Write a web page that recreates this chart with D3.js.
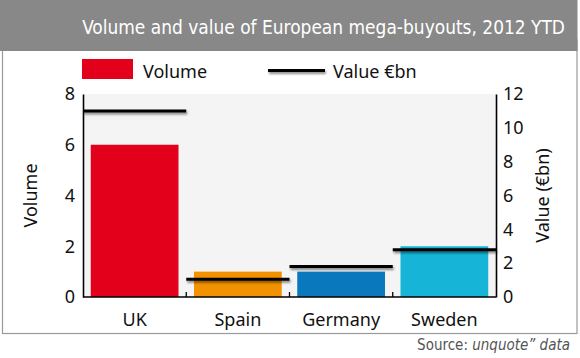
<!DOCTYPE html>
<html><head><meta charset="utf-8">
<script src="https://cdn.jsdelivr.net/npm/d3@7"></script>
<style>body{margin:0;background:#fff}svg{display:block}</style>
</head><body>
<script>
const categories = ["UK","Spain","Germany","Sweden"];
const volume = [6,1,1,2];
const valueBn = [11,1.05,1.8,2.8];
const colors = ["#e2001a","#f39200","#0a78bd","#16b5d8"];
const leftTicks = [0,2,4,6,8];
const rightTicks = [0,2,4,6,8,10,12];

const W=580,H=358;
const svg=d3.select("body").append("svg").attr("width",W).attr("height",H);
const defs=svg.append("defs");
const f=defs.append("filter").attr("id","sh").attr("filterUnits","userSpaceOnUse")
  .attr("x",0).attr("y",0).attr("width",W).attr("height",H);
f.append("feDropShadow").attr("dx",1).attr("dy",2).attr("stdDeviation",1.3).attr("flood-color","#000").attr("flood-opacity",0.45);

const bodyFont="'Noto Sans','Open Sans',sans-serif";
const condFont="'Liberation Sans Narrow','DejaVu Sans Condensed',sans-serif";

// frame
svg.append("rect").attr("x",2.5).attr("y",40).attr("width",574.5).attr("height",293.5).attr("fill","#fff").attr("stroke","#9a9a9a").attr("stroke-width",1.2);
svg.append("rect").attr("x",0).attr("y",0).attr("width",577.5).attr("height",51).attr("fill","#888888");
const title=svg.append("text").attr("x",565).attr("y",34).attr("text-anchor","end").attr("fill","#fff")
  .attr("font-family",condFont).attr("font-size",23)
  .text("Volume and value of European mega-buyouts, 2012 YTD");
const tw=title.node().getComputedTextLength();
if(tw>0) title.attr("font-size",Math.min(25,23*483/tw));

// plot area
const x0=83,x1=496,yTop=94,yBot=297;
const xBand=d3.scaleBand().domain(categories).range([x0,x1]).padding(0);
const xBar=d3.scaleBand().domain(categories).range([x0,x1]).paddingInner(0.15).paddingOuter(0.075);
const yL=d3.scaleLinear().domain([0,8]).range([yBot,yTop]);
const yR=d3.scaleLinear().domain([0,12]).range([yBot,yTop]);

svg.append("rect").attr("x",x0).attr("y",yTop).attr("width",x1-x0).attr("height",yBot-yTop).attr("fill","#f4f4f4");

svg.selectAll("rect.bar").data(categories).join("rect").attr("class","bar")
  .attr("x",d=>xBar(d)).attr("width",xBar.bandwidth())
  .attr("y",(d,i)=>yL(volume[i])).attr("height",(d,i)=>yBot-yL(volume[i]))
  .attr("fill",(d,i)=>colors[i]);

svg.selectAll("line.val").data(categories).join("line").attr("class","val")
  .attr("x1",d=>xBand(d)).attr("x2",d=>xBand(d)+xBand.bandwidth())
  .attr("y1",(d,i)=>yR(valueBn[i])).attr("y2",(d,i)=>yR(valueBn[i]))
  .attr("stroke","#000").attr("stroke-width",3).attr("filter","url(#sh)");

// axes
const gL=svg.append("g").attr("transform",`translate(${x0},0)`)
  .call(d3.axisLeft(yL).tickValues(leftTicks).tickSize(0).tickPadding(8));
const gR=svg.append("g").attr("transform",`translate(${x1},0)`)
  .call(d3.axisRight(yR).tickValues(rightTicks).tickSize(0).tickPadding(7));
const gB=svg.append("g").attr("transform",`translate(0,${yBot})`)
  .call(d3.axisBottom(xBand).tickSize(0).tickPadding(16));
[gL,gR,gB].forEach(g=>{
  g.select(".domain").attr("stroke","#000").attr("stroke-width",1.6);
  g.selectAll("text").attr("font-family",bodyFont).attr("font-size",18).attr("fill","#111");
});
gB.select(".domain").attr("d",`M${x0},0H${x1}`);
gB.selectAll("text").attr("dy","0.71em");
// inner category separators
svg.selectAll("line.sep").data(categories.slice(1)).join("line").attr("class","sep")
  .attr("x1",d=>xBand(d)).attr("x2",d=>xBand(d)).attr("y1",yBot-5).attr("y2",yBot)
  .attr("stroke","#000").attr("stroke-width",1.3);

// axis titles
svg.append("text").attr("transform",`translate(37,${(yTop+yBot)/2}) rotate(-90)`).attr("text-anchor","middle")
  .attr("font-family",bodyFont).attr("font-size",18).attr("fill","#111").text("Volume");
svg.append("text").attr("transform",`translate(549,${(yTop+yBot)/2}) rotate(-90)`).attr("text-anchor","middle")
  .attr("font-family",bodyFont).attr("font-size",18).attr("fill","#111").text("Value (€bn)");

// legend
svg.append("rect").attr("x",82).attr("y",59).attr("width",51).attr("height",20).attr("fill",colors[0]);
svg.append("text").attr("x",143).attr("y",77.5).attr("font-family",bodyFont).attr("font-size",18).attr("fill","#111").text("Volume");
svg.append("line").attr("x1",268).attr("x2",325).attr("y1",70.5).attr("y2",70.5).attr("stroke","#000").attr("stroke-width",3).attr("filter","url(#sh)");
svg.append("text").attr("x",333).attr("y",77.5).attr("font-family",bodyFont).attr("font-size",18).attr("fill","#111").text("Value €bn");

// source
const src=svg.append("text").attr("x",570).attr("y",350).attr("text-anchor","end").attr("font-family",condFont).attr("font-size",15).attr("fill","#555");
src.append("tspan").text("Source: ");
src.append("tspan").attr("font-style","italic").text("unquote\u201D data");
</script>
</body></html>
